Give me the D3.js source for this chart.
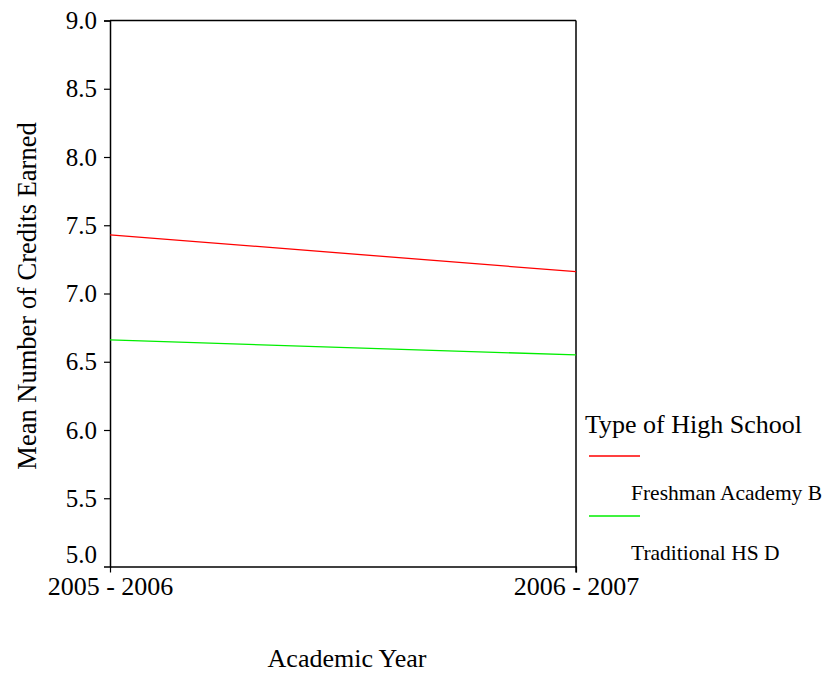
<!DOCTYPE html>
<html>
<head>
<meta charset="utf-8">
<script src="https://cdn.jsdelivr.net/npm/d3@7"></script>
<style>
  body { margin: 0; background: #fff; }
  svg text { font-family: "Liberation Serif", "Times New Roman", serif; }
</style>
</head>
<body>
<svg id="chart" width="826" height="673"></svg>
<script>
var years = ["2005 - 2006", "2006 - 2007"];
var seriesNames = ["Freshman Academy B", "Traditional HS D"];
var seriesColors = ["#ff0000", "#00ee00"];
var freshmanAcademy = [7.43, 7.16];
var traditionalHS = [6.66, 6.55];
var yTicks = [5.0, 5.5, 6.0, 6.5, 7.0, 7.5, 8.0, 8.5, 9.0];

var svg = d3.select("#chart");
var plotLeft = 110, plotRight = 576, plotTop = 20.5, plotBottom = 566.5;

var x = d3.scalePoint().domain(years).range([plotLeft, plotRight]);
var y = d3.scaleLinear().domain([5, 9]).range([plotBottom, plotTop]);

var series = [freshmanAcademy, traditionalHS].map(function(vals, i) {
  return { name: seriesNames[i], color: seriesColors[i], values: vals };
});

// frame (top and right)
svg.append("line").attr("x1", plotLeft).attr("x2", plotRight).attr("y1", plotTop).attr("y2", plotTop)
  .attr("stroke", "#000").attr("stroke-width", 1.5);
svg.append("line").attr("x1", plotRight).attr("x2", plotRight).attr("y1", plotTop).attr("y2", plotBottom + 6)
  .attr("stroke", "#000").attr("stroke-width", 1.5);

// y axis
var yAxis = svg.append("g")
  .attr("transform", "translate(" + plotLeft + ",0)")
  .call(d3.axisLeft(y).tickValues(yTicks).tickFormat(d3.format(".1f")).tickSize(6).tickPadding(7))
  .attr("font-family", null);
yAxis.select(".domain").attr("stroke-width", 1.5);
yAxis.selectAll(".tick line").attr("stroke-width", 1.2);
yAxis.selectAll("text").attr("font-size", 25).attr("fill", "#000");
yAxis.selectAll(".tick").filter(function(d) { return d === 5; })
  .select("text").attr("dy", "-0.15em");
yAxis.selectAll(".tick").filter(function(d) { return d === 5; })
  .select("line").remove();

// x axis
var xAxis = svg.append("g")
  .attr("transform", "translate(0," + plotBottom + ")")
  .call(d3.axisBottom(x).tickSize(6).tickPadding(4).tickSizeOuter(0))
  .attr("font-family", null);
xAxis.select(".domain").attr("stroke-width", 1.5);
xAxis.selectAll(".tick line").attr("stroke-width", 1.2);
xAxis.selectAll("text").attr("font-size", 26).attr("fill", "#000");

// lines
var line = d3.line()
  .x(function(d, i) { return x(years[i]); })
  .y(function(d) { return y(d); });

svg.selectAll(".series")
  .data(series)
  .enter().append("path")
  .attr("class", "series")
  .attr("d", function(d) { return line(d.values); })
  .attr("fill", "none")
  .attr("stroke", function(d) { return d.color; })
  .attr("stroke-width", 1.3);

// axis titles
svg.append("text")
  .attr("transform", "translate(36,296) rotate(-90)")
  .attr("text-anchor", "middle")
  .attr("font-size", 26.5)
  .text("Mean Number of Credits Earned");

svg.append("text")
  .attr("x", 347).attr("y", 667)
  .attr("text-anchor", "middle")
  .attr("font-size", 26)
  .text("Academic Year");

// legend
svg.append("text")
  .attr("x", 585).attr("y", 433)
  .attr("font-size", 26)
  .text("Type of High School");

var leg = svg.selectAll(".leg")
  .data(series)
  .enter().append("g")
  .attr("class", "leg")
  .attr("transform", function(d, i) { return "translate(0," + (i * 60) + ")"; });

leg.append("line")
  .attr("x1", 589).attr("x2", 640).attr("y1", 456).attr("y2", 456)
  .attr("stroke", function(d) { return d.color; })
  .attr("stroke-width", 1.5);

leg.append("text")
  .attr("x", 631).attr("y", 500)
  .attr("font-size", 21.5)
  .text(function(d) { return d.name; });
</script>
</body>
</html>
